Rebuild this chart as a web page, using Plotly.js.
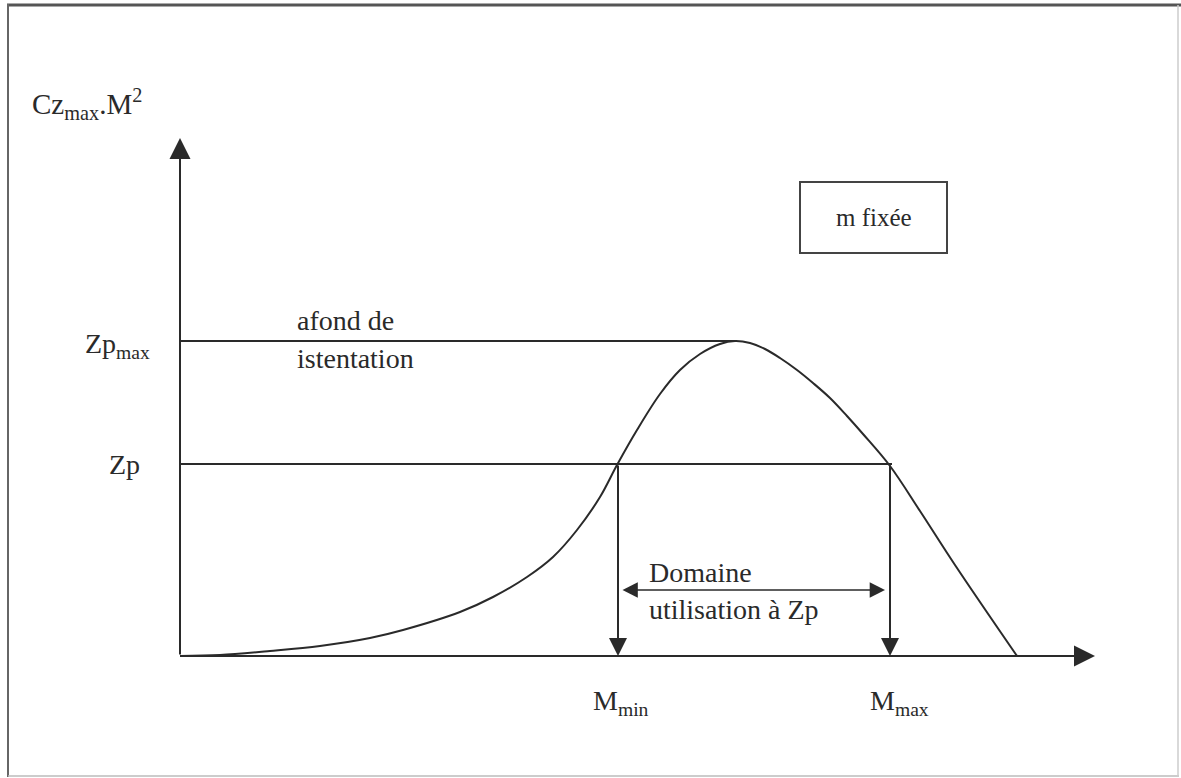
<!DOCTYPE html>
<html>
<head>
<meta charset="utf-8">
<script src="https://cdn.plot.ly/plotly-3.0.1.min.js"></script>
<style>html,body{margin:0;padding:0;background:#fff;}#chart{width:1181px;height:778px;}</style>
</head>
<body>
<div id="chart"></div>
<script>
// ---- data (arbitrary diagram units) ----
const mach = [0, 0.40, 0.90, 1.40, 1.90, 2.23, 2.80, 3.13, 3.47, 3.73, 3.97, 4.20, 4.37, 4.57, 4.80, 5.00, 5.20, 5.40, 5.55, 5.70, 5.85, 6.00, 6.17, 6.33, 6.50, 6.67, 6.83, 7.10, 7.40, 7.75, 8.37];
const czM2 = [0, 0.01, 0.05, 0.10, 0.18, 0.26, 0.44, 0.59, 0.79, 0.99, 1.26, 1.59, 1.91, 2.26, 2.62, 2.86, 3.02, 3.12, 3.15, 3.13, 3.07, 2.98, 2.86, 2.73, 2.58, 2.40, 2.22, 1.90, 1.45, 0.91, 0];
const levelLabels = ['Zp<sub>max</sub>', 'Zp'];
const levelValues = [3.15, 1.92];
const levelEnds = [5.55, 7.12];
const machLabels = ['M<sub>min</sub>', 'M<sub>max</sub>'];
const machValues = [4.38, 7.10];
const axisEnds = {x: 9.15, y: 5.18};
const yAxisLabel = 'Cz<sub>max</sub>.M<sup>2</sup>';
const ceilingLabel = ['afond de', 'istentation'];
const domainLabel = ['Domaine', 'utilisation à Zp'];
const boxLabel = 'm fixée';

// ---- layout helpers (pixel -> paper) ----
const W = 1181, H = 778;
const PX = p => p / W;
const PY = p => 1 - p / H;
const FONT = 'Liberation Serif, Times New Roman, serif';
const INK = '#2a2a2a';
const fs = 28;

const traces = [];
traces.push({x: mach, y: czM2, mode: 'lines', line: {color: INK, width: 2, shape: 'spline', smoothing: 1}, hoverinfo: 'skip'});
levelValues.forEach((v, i) => {
  traces.push({x: [0, levelEnds[i]], y: [v, v], mode: 'lines', line: {color: INK, width: 2}, hoverinfo: 'skip'});
});

const ann = [];
function arrow(x, y, ax, ay, opts) {
  ann.push(Object.assign({x: x, y: y, ax: ax, ay: ay, xref: 'x', yref: 'y', axref: 'x', ayref: 'y',
    text: '', showarrow: true, arrowhead: 2, arrowsize: 2.1, arrowwidth: 2, arrowcolor: INK, standoff: 0}, opts || {}));
}
// axes
arrow(axisEnds.x, 0, 0, 0);
arrow(0, axisEnds.y, 0, 0);
// vertical drops at Mmin and Mmax
machValues.forEach(m => arrow(m, 0, m, levelValues[1], {arrowsize: 1.8}));
// double arrow of the usable domain
arrow(machValues[1] - 0.05, 0.66, machValues[0] + 0.03, 0.66, {arrowside: 'end+start', arrowsize: 1.8, arrowwidth: 1.7});

function label(text, px, py, xanchor, size, yanchor) {
  ann.push({text: text, x: PX(px), y: PY(py), xref: 'paper', yref: 'paper', xanchor: xanchor, yanchor: yanchor || 'middle',
    showarrow: false, font: {family: FONT, size: size || fs, color: INK}});
}
label(yAxisLabel, 30, 104, 'left', 29);
label(levelLabels[0], 152, 345, 'right');
label(levelLabels[1], 142, 464, 'right');
label(ceilingLabel[0], 295, 320, 'left');
label(ceilingLabel[1], 295, 359, 'left');
label(boxLabel, 874, 217, 'center', 25);
label(domainLabel[0], 647, 572, 'left');
label(domainLabel[1], 647, 609, 'left');
label(machLabels[0], 591, 702, 'left');
label(machLabels[1], 868, 702, 'left');

const shapes = [
  {type: 'line', xref: 'paper', yref: 'paper', x0: PX(7), x1: 1, y0: PY(5), y1: PY(5), line: {color: '#555', width: 3}},
  {type: 'line', xref: 'paper', yref: 'paper', x0: PX(8), x1: PX(8), y0: PY(4), y1: PY(777), line: {color: '#666', width: 2}},
  {type: 'line', xref: 'paper', yref: 'paper', x0: PX(8), x1: PX(1179), y0: PY(776), y1: PY(776), line: {color: '#bbb', width: 1.5}},
  {type: 'line', xref: 'paper', yref: 'paper', x0: PX(1178), x1: PX(1178), y0: PY(5), y1: PY(776), line: {color: '#ccc', width: 1.5}},
  {type: 'rect', xref: 'paper', yref: 'paper', x0: PX(800), x1: PX(947), y0: PY(182), y1: PY(253), line: {color: '#444', width: 2}}
];

const layout = {
  width: W, height: H,
  margin: {l: 0, r: 0, t: 0, b: 0},
  paper_bgcolor: '#fff', plot_bgcolor: '#fff',
  showlegend: false,
  xaxis: {range: [-1.80, 10.01], visible: false, fixedrange: true},
  yaxis: {range: [-1.22, 6.56], visible: false, fixedrange: true},
  annotations: ann,
  shapes: shapes
};
Plotly.newPlot('chart', traces, layout, {displayModeBar: false, staticPlot: true});
</script>
</body>
</html>
